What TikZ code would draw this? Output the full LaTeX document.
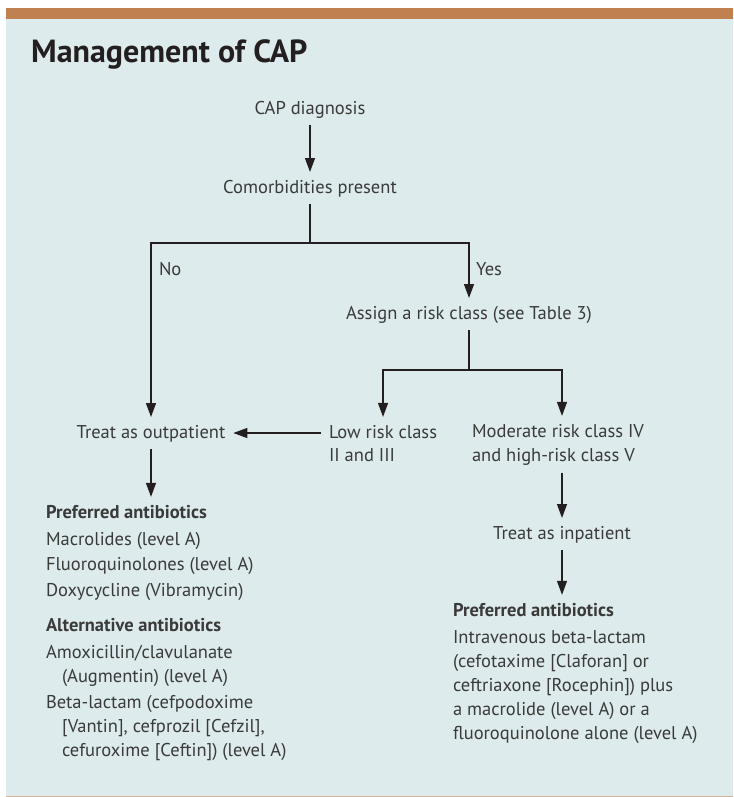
\documentclass[tikz,border=0pt]{standalone}
\usepackage{fontspec}
\setmainfont{PT Sans}
\usetikzlibrary{arrows.meta}

\definecolor{panelblue}{HTML}{DDEBEC}
\definecolor{barbrown}{HTML}{C0804F}
\definecolor{inkgray}{HTML}{3A3A3A}
\definecolor{inkdark}{HTML}{231F20}

\tikzset{
    flowtext/.style={inner sep=0pt, outer sep=8pt, text=inkgray,
        font=\fontsize{18.5}{24}\selectfont, text height=13pt, text depth=3pt},
    blocktext/.style={inner sep=0pt, outer sep=8pt, text=inkgray,
        font=\fontsize{18.5}{24}\selectfont, align=left},
    flowline/.style={draw=inkdark, line width=1.3pt},
    flowarrow/.style={flowline, -{Triangle[length=14pt,width=10pt]}},
}

\begin{document}
\begin{tikzpicture}[x=1pt, y=-1pt]
    \useasboundingbox (0,0) rectangle (733,797);
    % Panel
    \fill[panelblue] (6,19) rectangle (733,796);
    \fill[barbrown] (6,8.5) rectangle (733,19);
    \draw[barbrown!60, line width=1pt] (6,796) -- (733,796);

    % Title
    \node[anchor=base west, inner sep=0pt, text=inkdark,
        font=\fontsize{32}{34}\selectfont\bfseries] (title) at (31,63) {Management of CAP};

    % Diagnosis and comorbidities
    \node[flowtext, anchor=base] (diag) at (310,114) {CAP diagnosis};
    \node[flowtext, anchor=base] (comorb) at (310,193) {Comorbidities present};
    \draw[flowarrow] (diag) -- (comorb);

    \coordinate (fork) at (310,243);
    \node[flowtext, anchor=base west] (no) at (151,275) {No};
    \node[flowtext, anchor=base west] (yes) at (468,275) {Yes};

    % Outpatient branch
    \node[flowtext, anchor=base] (outpt) at (151,438) {Treat as outpatient};
    \draw[flowline] (comorb) -- (fork);
    \draw[flowarrow] (fork) -| (outpt);

    % Risk class branch
    \node[flowtext, anchor=base] (assign) at (469,319) {Assign a risk class (see Table 3)};
    \draw[flowarrow] (fork) -| (assign);

    % (multi-line nodes sit on their last line)
    \coordinate (riskfork) at (469,370);
    \node[blocktext, anchor=base west, font=\fontsize{18.5}{23}\selectfont] (low) at (321,461)
        {Low risk class\\II and III};
    \node[blocktext, anchor=base west] (mod) at (464,461)
        {Moderate risk class IV\\and high-risk class V};
    \node[flowtext, anchor=base] (inpt) at (562,539) {Treat as inpatient};
    \draw[flowline] (assign) -- (riskfork);
    \draw[flowarrow] (riskfork) -| (low);
    \draw[flowarrow] (riskfork) -| (inpt.north |- mod.north);
    \draw[flowarrow] (low.west |- outpt) -- (outpt);
    \draw[flowarrow] (mod.south -| inpt.north) -- (inpt);

    % Antibiotics, outpatient
    \node[blocktext, anchor=base west] (lpref) at (38,596)
        {\textbf{Preferred antibiotics}\\[3pt]
         Macrolides (level A)\\[1.5pt]
         Fluoroquinolones (level A)\\[1.5pt]
         Doxycycline (Vibramycin)};
    \node[blocktext, anchor=base west] (lalt) at (38,756)
        {\textbf{Alternative antibiotics}\\[3pt]
         Amoxicillin/clavulanate\\
         \hspace*{16pt}(Augmentin) (level A)\\[2pt]
         Beta-lactam (cefpodoxime\\
         \hspace*{16pt}[Vantin], cefprozil [Cefzil],\\
         \hspace*{16pt}cefuroxime [Ceftin]) (level A)};
    \draw[flowarrow] (outpt) -- (outpt |- lpref.north);

    % Antibiotics, inpatient
    \node[blocktext, anchor=base west] (rpref) at (445,739)
        {\textbf{Preferred antibiotics}\\[3pt]
         Intravenous beta-lactam\\
         (cefotaxime [Claforan] or\\
         ceftriaxone [Rocephin]) plus\\
         a macrolide (level A) or a\\
         fluoroquinolone alone (level A)};
    \draw[flowarrow] (inpt) -- (inpt |- rpref.north);
\end{tikzpicture}
\end{document}
